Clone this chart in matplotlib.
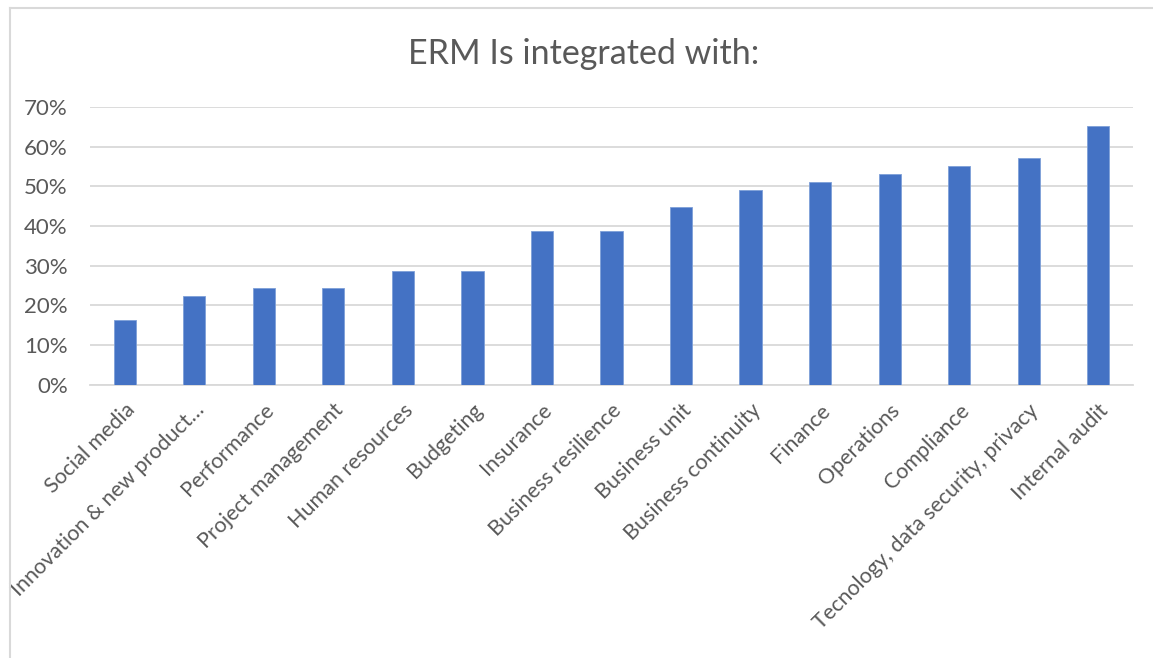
import numpy as np
import matplotlib.pyplot as plt
from matplotlib.lines import Line2D
from matplotlib.ticker import PercentFormatter

categories = ["Social media", "Innovation & new product\u2026", "Performance",
              "Project management", "Human resources", "Budgeting", "Insurance",
              "Business resilience", "Business unit", "Business continuity",
              "Finance", "Operations", "Compliance",
              "Tecnology, data security, privacy", "Internal audit"]
shares = [16.3, 22.4, 24.5, 24.5, 28.6, 28.6, 38.8, 38.8, 44.9, 49.0,
          51.0, 53.1, 55.1, 57.1, 65.3]
yticks = [0, 10, 20, 30, 40, 50, 60, 70]

plt.rcParams['font.family'] = ['Lato', 'DejaVu Sans']
grey = "#595959"
gridc = "#d9d9d9"

fig = plt.figure(figsize=(11.53, 6.58), dpi=100)
ax = fig.add_axes([0.078, 0.4153, 0.9047, 0.4221])

x = np.arange(len(categories))
ax.bar(x, shares, width=0.32, color="#4472C4", edgecolor="#7e9fd8", linewidth=0.6, zorder=3)

ax.set_xlim(-0.5, len(categories) - 0.5)
ax.set_ylim(0, 70)
ax.set_yticks(yticks)
ax.yaxis.set_major_formatter(PercentFormatter(decimals=0))
ax.yaxis.grid(True, color=gridc, linewidth=1.3, zorder=0)
ax.tick_params(axis='y', length=0, pad=16, labelsize=16, labelcolor=grey)
ax.tick_params(axis='x', length=0, pad=11, labelsize=15.5, labelcolor=grey)
ax.set_xticks(x)
ax.set_xticklabels(categories, rotation=45, ha='right', rotation_mode='anchor')
for s in ["top", "right", "left"]:
    ax.spines[s].set_visible(False)
ax.spines["bottom"].set_color(gridc)
ax.spines["bottom"].set_linewidth(1.3)

fig.text(0.5065, 0.918, "ERM Is integrated with:", ha='center', va='center',
         fontsize=24.5, color=grey)

# light frame around the chart area
fig.add_artist(Line2D([9.5 / 1153, 9.5 / 1153], [0, 1 - 8 / 658],
                      transform=fig.transFigure, color=gridc, linewidth=1.5))
fig.add_artist(Line2D([9.5 / 1153, 1], [1 - 8 / 658, 1 - 8 / 658],
                      transform=fig.transFigure, color=gridc, linewidth=1.5))

fig.savefig("out.png", dpi=100, facecolor="white")
